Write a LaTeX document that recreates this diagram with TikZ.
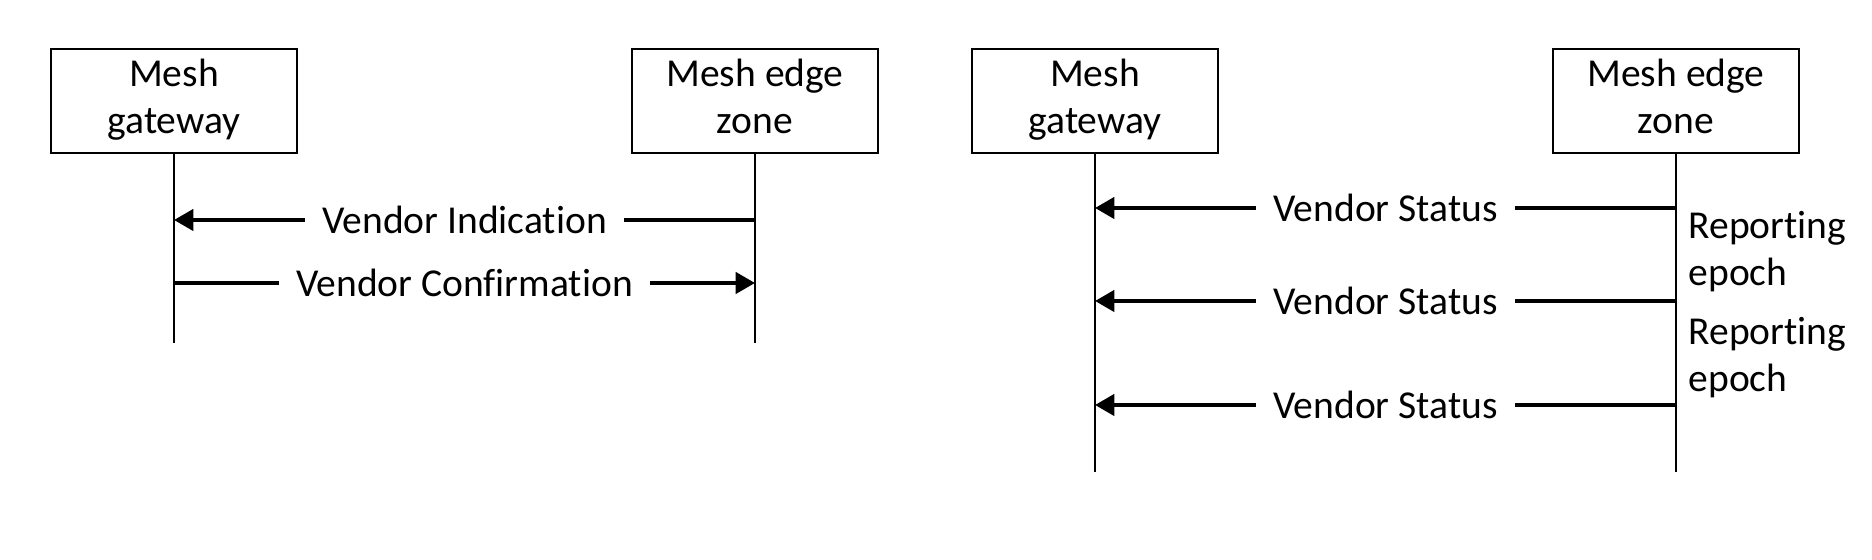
\documentclass[tikz,border=0pt]{standalone}
\usepackage{fontspec}
\setmainfont{Carlito}[Ligatures=NoCommon]
\usetikzlibrary{arrows.meta}

\begin{document}
\begin{tikzpicture}[x=1cm,y=1cm,font=\fontsize{11.25}{13.4}\selectfont,
    actor/.style={draw,line width=.8pt,minimum width=2.46cm,minimum height=1.04cm,align=center,inner sep=0pt},
    life/.style={line width=.7pt},
    msg/.style={line width=1.15pt,-{Triangle[length=5.5pt,width=6pt]}},
    msglabel/.style={fill=white,inner xsep=5pt,inner ysep=1pt},
    epoch/.style={anchor=west,align=left,inner sep=0pt}]
        \useasboundingbox (0,0) rectangle (18.72,5.6);

        %% indication / confirmation
        \node[actor] (gwA) at (1.74,4.59) {\strut Mesh\\gateway\strut};
        \node[actor] (ezA) at (7.55,4.59) {\strut Mesh edge\\zone\strut};
        \coordinate (gwAend) at (gwA.south |- 0,2.17);
        \coordinate (ezAend) at (ezA.south |- 0,2.17);
        \draw[life] (gwA.south) -- (gwAend);
        \draw[life] (ezA.south) -- (ezAend);

        \coordinate (indEz) at (ezA |- 0,3.40);
        \coordinate (indGw) at (gwA |- 0,3.40);
        \draw[msg] (indEz) -- node[msglabel] {Vendor Indication} (indGw);

        \coordinate (cnfGw) at (gwA |- 0,2.77);
        \coordinate (cnfEz) at (ezA |- 0,2.77);
        \draw[msg] (cnfGw) -- node[msglabel] {Vendor Confirmation} (cnfEz);

        %% periodic status
        \node[actor] (gwB) at (10.95,4.59) {\strut Mesh\\gateway\strut};
        \node[actor] (ezB) at (16.76,4.59) {\strut Mesh edge\\zone\strut};
        \coordinate (gwBend) at (gwB.south |- 0,0.88);
        \coordinate (ezBend) at (ezB.south |- 0,0.88);
        \draw[life] (gwB.south) -- (gwBend);
        \draw[life] (ezB.south) -- (ezBend);

        \foreach \y [count=\i] in {3.52,2.59,1.55} {
            \coordinate (stEz\i) at (ezB |- 0,\y);
            \coordinate (stGw\i) at (gwB |- 0,\y);
            \draw[msg] (stEz\i) -- node[msglabel] {Vendor Status} (stGw\i);
        }

        \node[epoch] (ep1) at (16.88,3.08) {Reporting\\epoch};
        \node[epoch] (ep2) at (16.88,2.02) {Reporting\\epoch};
      \end{tikzpicture}
\end{document}
